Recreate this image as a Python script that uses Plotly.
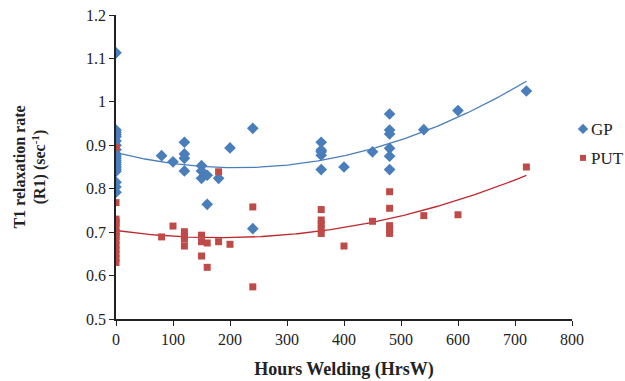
import numpy as np
import plotly.graph_objects as go

# GP (blue diamonds)
gp_x = [0]*20 + [80, 100, 120, 120, 120, 120, 150, 150, 150, 160, 160, 180, 200, 240, 240,
                 360, 360, 360, 360, 360, 400, 450, 480, 480, 480, 480, 480, 480, 540, 600, 720]
gp_y = [1.113, 0.935, 0.93, 0.925, 0.92, 0.91, 0.90, 0.89, 0.88, 0.875, 0.87, 0.865, 0.86, 0.855,
        0.85, 0.845, 0.84, 0.815, 0.804, 0.792,
        0.876, 0.862, 0.907, 0.880, 0.870, 0.841, 0.853, 0.841, 0.824, 0.831, 0.764, 0.824,
        0.894, 0.939, 0.708,
        0.907, 0.889, 0.885, 0.877, 0.844, 0.850, 0.885, 0.972, 0.935, 0.926, 0.893, 0.875,
        0.844, 0.936, 0.980, 1.025]

# PUT (red squares)
put_x = [0]*15 + [80, 100, 120, 120, 120, 120, 150, 150, 150, 160, 160, 180, 180, 200, 240, 240,
                  360, 360, 360, 360, 360, 400, 450, 480, 480, 480, 480, 480, 540, 600, 720]
put_y = [0.895, 0.768, 0.73, 0.725, 0.72, 0.71, 0.70, 0.695, 0.69, 0.68, 0.67, 0.66, 0.65, 0.64, 0.63,
         0.689, 0.714, 0.701, 0.691, 0.684, 0.668, 0.693, 0.678, 0.645, 0.675, 0.619, 0.678, 0.839,
         0.672, 0.758, 0.574,
         0.752, 0.728, 0.718, 0.708, 0.697, 0.668, 0.725, 0.793, 0.755, 0.715, 0.706, 0.697,
         0.738, 0.740, 0.850]

series_names = ["GP", "PUT"]
x_ticks = [0, 100, 200, 300, 400, 500, 600, 700, 800]
y_ticks = [0.5, 0.6, 0.7, 0.8, 0.9, 1.0, 1.1, 1.2]
y_tick_text = ["0.5", "0.6", "0.7", "0.8", "0.9", "1", "1.1", "1.2"]

BLUE = "#4A7EBB"
RED = "#BE4B48"
BLUE_LINE = "#4A7EBB"
RED_LINE = "#C0282E"

xs = np.linspace(0, 720, 200)
gp_fit = np.polyval(np.polyfit(gp_x, gp_y, 2), xs)
put_fit = np.polyval(np.polyfit(put_x, put_y, 2), xs)

fig = go.Figure()
fig.add_trace(go.Scatter(x=xs, y=gp_fit, mode="lines", line=dict(color=BLUE_LINE, width=1.3),
                         showlegend=False, hoverinfo="skip"))
fig.add_trace(go.Scatter(x=xs, y=put_fit, mode="lines", line=dict(color=RED_LINE, width=1.3),
                         showlegend=False, hoverinfo="skip"))
fig.add_trace(go.Scatter(x=gp_x, y=gp_y, mode="markers", name=series_names[0], showlegend=False,
                         marker=dict(symbol="diamond", size=9, color=BLUE)))
fig.add_trace(go.Scatter(x=put_x, y=put_y, mode="markers", name=series_names[1], showlegend=False,
                         marker=dict(symbol="square", size=7, color=RED)))
# legend symbols (text drawn as annotations next to them)
fig.add_trace(go.Scatter(x=[None], y=[None], mode="markers", name="", legend="legend",
                         marker=dict(symbol="diamond", size=8, color=BLUE), hoverinfo="skip"))
fig.add_trace(go.Scatter(x=[None], y=[None], mode="markers", name="", legend="legend2",
                         marker=dict(symbol="square", size=6, color=RED), hoverinfo="skip"))

font = dict(family="Liberation Serif, Times New Roman, serif", size=16, color="#222222")

W, H = 625, 381
L, R, T, B = 116, 53, 15, 62
pw, ph = W - L - R, H - T - B

def px_to_paper_x(px):
    return (px - L) / pw

def px_to_paper_y(py):
    return (H - B - py) / ph

leg_common = dict(xanchor="left", yanchor="middle", bgcolor="rgba(0,0,0,0)",
                  itemsizing="trace", itemwidth=30, font=dict(size=16))

fig.update_layout(
    width=W, height=H,
    margin=dict(l=L, r=R, t=T, b=B, autoexpand=False),
    paper_bgcolor="white", plot_bgcolor="white",
    font=font,
    legend=dict(x=px_to_paper_x(563), y=px_to_paper_y(129), **leg_common),
    legend2=dict(x=px_to_paper_x(563), y=px_to_paper_y(158), **leg_common),
    xaxis=dict(range=[0, 800], tickvals=x_ticks, showgrid=False, zeroline=False,
               showline=True, linecolor="#222222", linewidth=1.5, ticks="outside",
               ticklen=5, tickcolor="#222222",
               title=dict(text="<b>Hours Welding (HrsW)</b>", standoff=15,
                          font=dict(size=18))),
    yaxis=dict(range=[0.5, 1.2], tickvals=y_ticks, ticktext=y_tick_text, showgrid=False,
               zeroline=False, showline=True, linecolor="#222222", linewidth=1.5,
               ticks="outside", ticklen=5, tickcolor="#222222",
               title=dict(text="<b>T1 relaxation rate<br>(R1) (sec<sup>-1</sup>)</b>",
                          standoff=36, font=dict(size=16))),
)

for name, py in zip(series_names, [129, 158]):
    fig.add_annotation(text=name, xref="paper", yref="paper", x=px_to_paper_x(589),
                       y=px_to_paper_y(py), xanchor="left", yanchor="middle",
                       showarrow=False, font=dict(size=17, color="#222222"))

fig.write_html("out.html", config={"displayModeBar": False},
               post_script="document.body.style.margin='0';")
